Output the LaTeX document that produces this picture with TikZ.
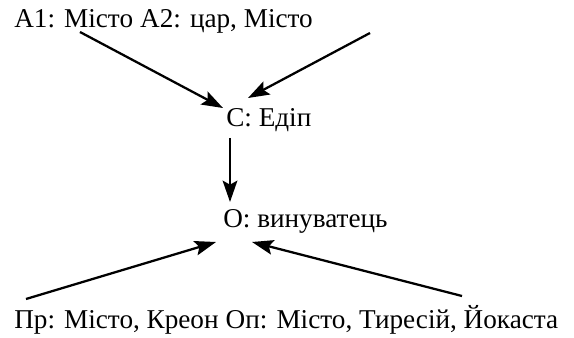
\documentclass[tikz,border=0pt]{standalone}
\usepackage{fontspec}
\setmainfont{Liberation Serif}
\usetikzlibrary{arrows.meta,positioning}
\tikzset{
  lab/.style={font=\fontsize{20.4}{24}\selectfont, inner sep=1.5pt, anchor=base west},
  ar/.style={-{Stealth[length=16pt,width=11pt,inset=3pt]}, line width=1.7pt},
}
\begin{document}
\begin{tikzpicture}[x=0.75pt,y=-0.75pt]
\useasboundingbox (0,0) rectangle (574,338);

% ---- верхні ролі ----
\node[lab] (a1) at (12,28) {A1: Місто};
\node[lab, base right=1.9pt of a1] (a2) {A2: цар, Місто};

% ---- центр ----
\node[lab] (c) at (224,127) {С: Едіп};
\node[lab] (o) at (221,228) {О: винуватець};

% ---- нижні ролі ----
\node[lab] (pr) at (12,328) {Пр: Місто, Креон};
\node[lab, base right=1.9pt of pr] (op) {Оп: Місто, Тиресій, Йокаста};

% ---- стрілки ----
\coordinate (a1-out) at (80,32);
\coordinate (a2-out) at (370,33);
\coordinate (pr-out) at (26,299);
\coordinate (op-out) at (462,296);
\draw[ar] (a1-out) -- ([shift={(-1,-19)}]c.base west);
\draw[ar] (a2-out) -- ([shift={(24,-29)}]c.base west);
\draw[ar] ([shift={(6,11)}]c.base west) -- ([shift={(9,-26)}]o.base west);
\draw[ar] (pr-out) -- ([shift={(-5,14)}]o.base west);
\draw[ar] (op-out) -- ([shift={(31,14)}]o.base west);

\end{tikzpicture}
\end{document}
